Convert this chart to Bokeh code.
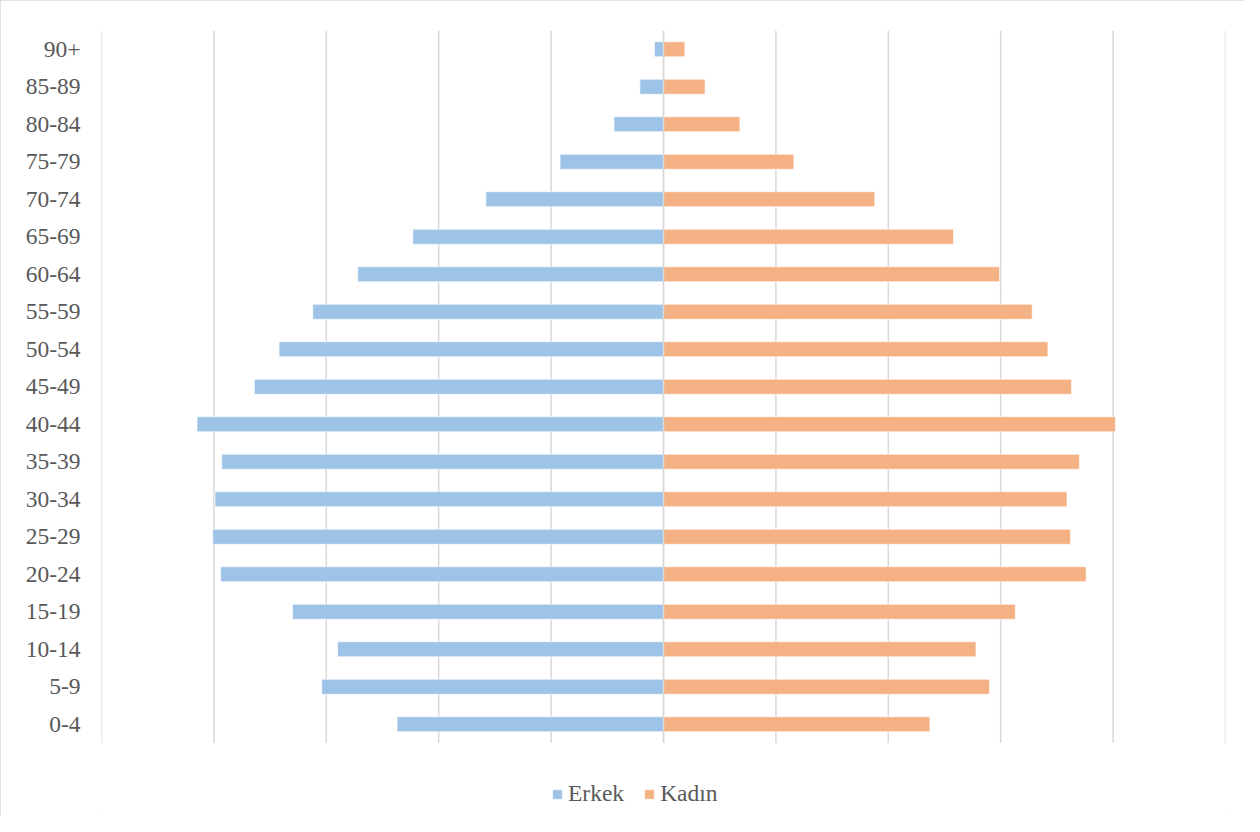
from bokeh.plotting import figure
from bokeh.models import ColumnDataSource, Range1d, FixedTicker, Legend, LegendItem
from bokeh.embed import file_html
from bokeh.resources import INLINE

age_groups = ["0-4", "5-9", "10-14", "15-19", "20-24", "25-29", "30-34", "35-39",
              "40-44", "45-49", "50-54", "55-59", "60-64", "65-69", "70-74",
              "75-79", "80-84", "85-89", "90+"]
erkek = [2.37, 3.04, 2.90, 3.30, 3.94, 4.01, 3.99, 3.93, 4.15, 3.64, 3.42,
         3.12, 2.72, 2.23, 1.58, 0.92, 0.44, 0.21, 0.08]
kadin = [2.37, 2.90, 2.78, 3.13, 3.76, 3.62, 3.59, 3.70, 4.02, 3.63, 3.42,
         3.28, 2.99, 2.58, 1.88, 1.16, 0.68, 0.37, 0.19]
grid_ticks = [-5, -4, -3, -2, -1, 0, 1, 2, 3, 4, 5]

BLUE = "#9DC3E6"
ORANGE = "#F4B183"
GRID = "#D9D9D9"
FONT = "Liberation Serif"
TXT = "#595959"

n = len(age_groups)
pos = list(range(n))
src = ColumnDataSource(dict(
    y=pos,
    erkek_left=[-v for v in erkek],
    kadin_right=kadin,
    zero=[0] * n,
))
grid_src = ColumnDataSource(dict(
    x=grid_ticks,
    y0=[-0.5] * len(grid_ticks),
    y1=[n - 0.5] * len(grid_ticks),
))

W, H = 1244, 816
TOP, BOTTOM = 30, 0
row_px = 37.5
frame_h = H - TOP - BOTTOM

p = figure(width=W, height=H, output_backend="svg", toolbar_location=None,
           x_range=Range1d(-5.0, 5.0),
           y_range=Range1d(n - 0.5 - frame_h / row_px, n - 0.5),
           x_axis_location=None,
           min_border_left=101, min_border_right=W - 1225,
           min_border_top=TOP, min_border_bottom=BOTTOM)
p.styles = {"outline": "2px solid #D9D9D9", "outline-offset": "-2px"}
p.outline_line_color = None
p.background_fill_color = "white"
p.border_fill_color = "white"
p.grid.visible = False

# vertical gridlines
p.segment(x0="x", x1="x", y0="y0", y1="y1", source=grid_src,
          line_color=GRID, line_width=1.5)

r1 = p.hbar(y="y", left="erkek_left", right="zero", height=0.4, source=src,
            fill_color=BLUE, line_color="white", line_alpha=0.6, line_width=1)
r2 = p.hbar(y="y", left="zero", right="kadin_right", height=0.4, source=src,
            fill_color=ORANGE, line_color="white", line_alpha=0.6, line_width=1)

# vertical category axis line at zero, over the bars
p.segment(x0=[0], x1=[0], y0=[-0.5], y1=[n - 0.5],
          line_color=GRID, line_width=1.5)

p.yaxis.ticker = FixedTicker(ticks=pos)
p.yaxis.major_label_overrides = {i: lab for i, lab in zip(pos, age_groups)}
p.yaxis.axis_line_color = None
p.yaxis.major_tick_line_color = None
p.yaxis.major_tick_out = 0
p.yaxis.major_tick_in = 0
p.yaxis.minor_tick_line_color = None
p.yaxis.major_label_text_font = FONT
p.yaxis.major_label_text_font_size = "23.5px"
p.yaxis.major_label_text_color = TXT
p.yaxis.major_label_standoff = 21

legend = Legend(items=[LegendItem(label="Erkek", renderers=[r1]),
                       LegendItem(label="Kadın", renderers=[r2])],
                orientation="horizontal", location=(450, 9),
                padding=0, margin=0, spacing=19,
                glyph_width=12, glyph_height=12, label_standoff=5,
                label_text_font=FONT, label_text_font_size="23.5px",
                label_text_color=TXT, border_line_color=None,
                background_fill_alpha=0)
p.add_layout(legend, "center")

open("out.html", "w").write(file_html(p, INLINE))
